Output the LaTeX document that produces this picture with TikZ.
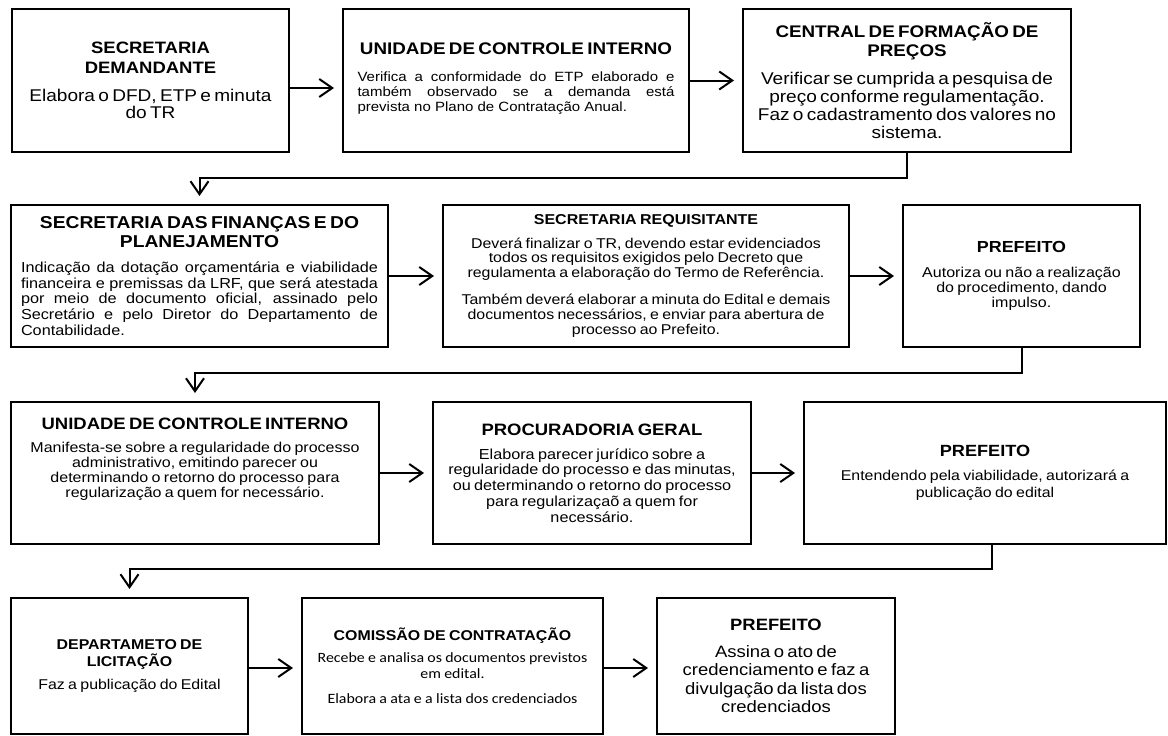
\documentclass[tikz,border=0pt]{standalone}
\usepackage{fontspec}
\setmainfont{Liberation Sans}[FakeStretch=1.12]
\newfontfamily\calib{Carlito}[FakeStretch=1.12]
\usetikzlibrary{arrows.meta}
\newcommand{\fs}[2]{\fontsize{#1pt}{#2pt}\selectfont}
\newcommand{\jfs}[2]{\leftskip=0pt \rightskip=0pt \parfillskip=0pt plus 1fil\relax
  \fontsize{#1pt}{#2pt}\selectfont
  \spaceskip=\fontdimen2\font plus 3\fontdimen2\font minus 0.2\fontdimen2\font
  \xspaceskip=\spaceskip\relax}
\tikzset{
  stepbox/.style={draw=black, line width=2.6pt, inner sep=0pt, outer sep=0pt, minimum height=142pt},
  arr/.style={line width=2pt, -{Straight Barb[length=13pt,width=18pt]}, shorten >=9pt},
}
\begin{document}
\begin{tikzpicture}[x=1pt,y=-1pt]
\useasboundingbox (0,0) rectangle (1168,736);

% Row 1
\node[stepbox, minimum width=277pt, minimum height=143pt, text width=266pt] (a) at (150.5,80.5)
{{\centering\fs{16.5}{19.4}\bfseries SECRETARIA\\DEMANDANTE\par}\vspace{10.3pt}%
 {\centering\fs{17}{17.7}Elabora o DFD, ETP e minuta\\do TR\par}};

\node[stepbox, minimum width=346pt, minimum height=143pt, text width=317pt] (b) at (516,80.5)
{{\centering\fs{16.8}{19}\bfseries UNIDADE DE CONTROLE INTERNO\par}\vspace{11.7pt}%
 {\jfs{13.4}{15}Verifica a conformidade do ETP elaborado e\linebreak também observado se a demanda está\linebreak prevista no Plano de Contratação Anual.\par}\vskip4pt\hrule height0pt};

\node[stepbox, minimum width=328pt, minimum height=143pt, text width=320pt] (c) at (907,80.5)
{{\centering\fs{16.8}{19}\bfseries CENTRAL DE FORMAÇÃO DE\\PREÇOS\par}\vspace{9.7pt}%
 {\centering\fs{17}{18}Verificar se cumprida a pesquisa de\\preço conforme regulamentação.\\Faz o cadastramento dos valores no\\sistema.\par}};

% Row 2
\node[stepbox, minimum width=377pt, text width=357pt] (d) at (199.5,276)
{{\centering\fs{17.2}{19}\bfseries SECRETARIA DAS FINANÇAS E DO\\PLANEJAMENTO\par}\vspace{9.2pt}%
 {\jfs{14.5}{15.8}\emergencystretch=2em Indicação da dotação orçamentária e viabilidade\linebreak financeira e premissas da LRF, que será atestada\linebreak por meio de documento oficial, assinado pelo\linebreak Secretário e pelo Diretor do Departamento de\linebreak Contabilidade.\par}};

\node[stepbox, minimum width=406pt, text width=392pt] (e) at (646,276)
{{\centering\fs{14.3}{16}\bfseries SECRETARIA REQUISITANTE\par}\vspace{8.6pt}%
 {\centering\fs{14.2}{14.7}Deverá finalizar o TR, devendo estar evidenciados\\todos os requisitos exigidos pelo Decreto que\\regulamenta a elaboração do Termo de Referência.\par}\vspace{12.6pt}%
 {\centering\fs{14.2}{14.7}Também deverá elaborar a minuta do Edital e demais\\documentos necessários, e enviar para abertura de\\processo ao Prefeito.\par}};

\node[stepbox, minimum width=237pt, text width=230pt] (f) at (1021.5,276)
{{\centering\fs{16}{18}\bfseries PREFEITO\par}\vspace{9.3pt}%
 {\centering\fs{14.3}{15}Autoriza ou não a realização\\do procedimento, dando\\impulso.\par}};

% Row 3
\node[stepbox, minimum width=368pt, text width=360pt] (g) at (195,473)
{{\centering\fs{16.5}{19}\bfseries UNIDADE DE CONTROLE INTERNO\par}\vspace{8.3pt}%
 {\centering\fs{14.3}{15}Manifesta-se sobre a regularidade do processo\\administrativo, emitindo parecer ou\\determinando o retorno do processo para\\regularização a quem for necessário.\par}\vskip28pt\hrule height0pt};

\node[stepbox, minimum width=318pt, text width=310pt] (h) at (592,473)
{{\centering\fs{16.5}{19}\bfseries PROCURADORIA GERAL\par}\vspace{8.2pt}%
 {\centering\fs{14.5}{15.8}Elabora parecer jurídico sobre a\\regularidade do processo e das minutas,\\ou determinando o retorno do processo\\para regularizaçaõ a quem for\\necessário.\par}};

\node[stepbox, minimum width=362pt, text width=350pt] (i) at (985,473)
{{\centering\fs{16.2}{18}\bfseries PREFEITO\par}\vspace{7.6pt}%
 {\centering\fs{14.2}{16.7}Entendendo pela viabilidade, autorizará a\\publicação do edital\par}};

% Row 4
\node[stepbox, minimum width=237pt, minimum height=136pt, text width=230pt] (j) at (129.5,666)
{{\centering\fs{14.2}{16.7}\bfseries DEPARTAMETO DE\\LICITAÇÃO\par}\vspace{6.6pt}%
 {\centering\fs{14.2}{16.7}Faz a publicação do Edital\par}};

\node[stepbox, minimum width=301pt, minimum height=136pt, text width=295pt] (k) at (452.5,666)
{{\centering\fs{14.2}{16}\bfseries COMISSÃO DE CONTRATAÇÃO\par}\vspace{5.4pt}%
 {\centering\calib\fs{14.2}{16.3}Recebe e analisa os documentos previstos\\em edital.\par}\vspace{8.7pt}%
 {\centering\calib\fs{14.2}{16.3}Elabora a ata e a lista dos credenciados\par}};

\node[stepbox, minimum width=238pt, minimum height=136pt, text width=230pt] (l) at (776,666)
{{\centering\fs{16.4}{18}\bfseries PREFEITO\par}\vspace{8pt}%
 {\centering\fs{16.5}{18.5}Assina o ato de\\credenciamento e faz a\\divulgação da lista dos\\credenciados\par}};

% Connectors
\draw[arr] ([yshift=-7.5pt]a.east) -- ([yshift=-7.5pt]b.west);
\draw[arr] (b.east) -- (c.west);
\draw[arr] (c.south) -- ++(0,26) -| (d.north);
\draw[arr] (d.east) -- (e.west);
\draw[arr] (e.east) -- (f.west);
\draw[arr] (f.south) -- ++(0,26) -| (g.north);
\draw[arr] (g.east) -- (h.west);
\draw[arr] (h.east) -- (i.west);
\draw[arr] ([xshift=7pt]i.south) -- ++(0,25) -| (j.north);
\draw[arr] ([yshift=-2pt]j.east) -- ([yshift=-2pt]k.west);
\draw[arr] ([yshift=-2pt]k.east) -- ([yshift=-2pt]l.west);
\end{tikzpicture}
\end{document}
